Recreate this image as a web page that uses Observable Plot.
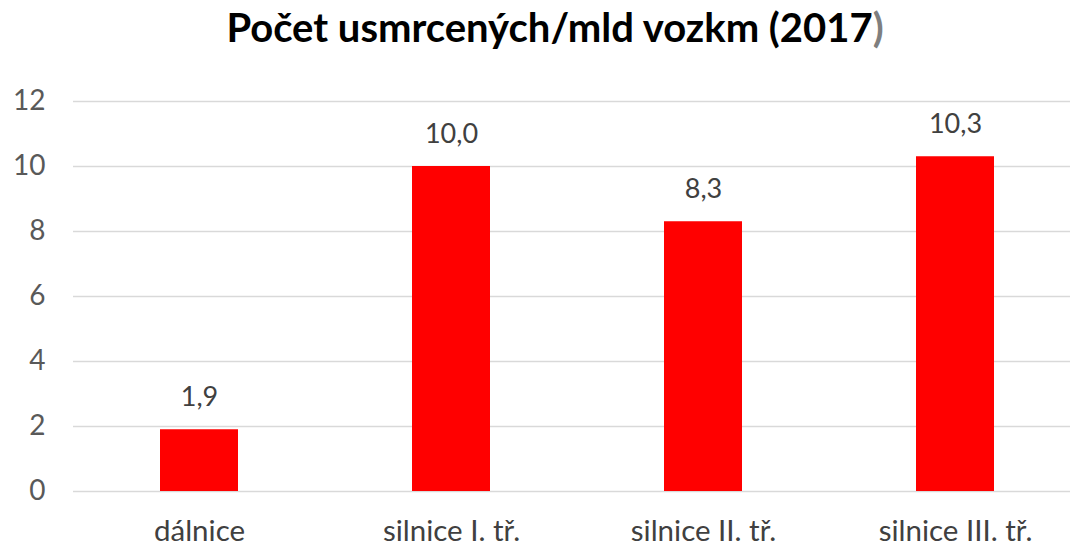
<!DOCTYPE html>
<html>
<head>
<meta charset="utf-8">
<script src="https://cdn.jsdelivr.net/npm/d3@7"></script>
<script src="https://cdn.jsdelivr.net/npm/@observablehq/plot@0.6"></script>
<style>
  body { margin: 0; background: #fff; font-family: Lato, "Open Sans", sans-serif; }
  #title { height: 70px; line-height: 54px; text-align: center; font-size: 40px; font-weight: bold; color: #000; padding-left: 40px; white-space: nowrap; }
  #title .paren { color: #7f7f7f; }
</style>
</head>
<body>
<div id="title">Počet usmrcených/mld vozkm (2017<span class="paren">)</span></div>
<div id="chart"></div>
<script>
const categories = ["dálnice", "silnice I. tř.", "silnice II. tř.", "silnice III. tř."];
const values = [1.9, 10.0, 8.3, 10.3];
const yTicks = [0, 2, 4, 6, 8, 10, 12];

const data = categories.map((c, i) => ({category: c, value: values[i]}));
const fmt = v => v.toFixed(1).replace(".", ",");

const chart = Plot.plot({
  width: 1070,
  height: 476,
  marginLeft: 73,
  marginRight: 0,
  marginTop: 31,
  marginBottom: 55,
  style: { fontFamily: "Lato, 'Open Sans', sans-serif", fontSize: "28px", color: "#595959", background: "#fff" },
  x: { domain: categories, range: [73, 1081], paddingInner: 0.69, paddingOuter: 0.345, label: null },
  y: { domain: [0, 12], ticks: yTicks, label: null },
  marks: [
    Plot.gridY(yTicks, { stroke: "#d9d9d9", strokeOpacity: 1, strokeWidth: 1.5 }),
    Plot.barY(data, { x: "category", y: "value", fill: "#ff0000" }),
    Plot.text(data, { x: "category", y: "value", text: d => fmt(d.value), dy: -32, fill: "#404040", fontSize: 27 }),
    Plot.axisY(yTicks, { tickSize: 0, tickPadding: 28, fill: "#595959", fontSize: 28, label: null }),
    Plot.axisX({ tickSize: 0, tickPadding: 29, fill: "#404040", fontSize: 29.5, label: null })
  ]
});
document.getElementById("chart").appendChild(chart);
</script>
</body>
</html>
